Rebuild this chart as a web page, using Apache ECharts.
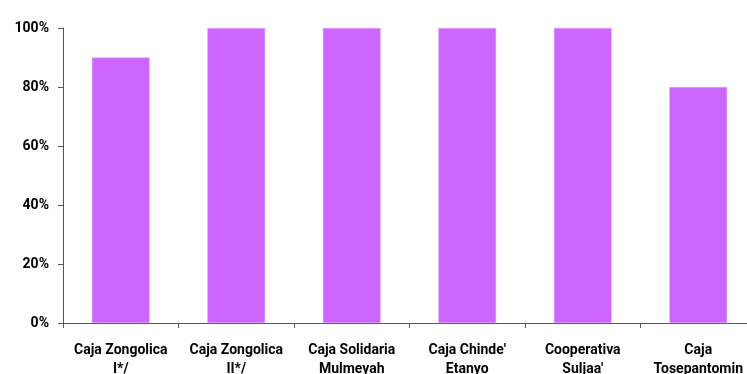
<!DOCTYPE html>
<html><head><meta charset="utf-8">
<script src="https://cdn.jsdelivr.net/npm/echarts@6/dist/echarts.min.js"></script>
<style>html,body{margin:0;padding:0;background:#fff;overflow:hidden;width:747px;height:374px}#c{width:770px;height:374px}</style>
</head><body><div id="c"></div>
<script>
const categories = ["Caja Zongolica\nI*/", "Caja Zongolica\nII*/", "Caja Solidaria\nMulmeyah", "Caja Chinde'\nEtanyo", "Cooperativa\nSuljaa'", "Caja\nTosepantomin"];
const values = [0.9, 1, 1, 1, 1, 0.8];
const yTicks = [0, 0.2, 0.4, 0.6, 0.8, 1];
const font = 'Roboto, "Liberation Sans", sans-serif';
const chart = echarts.init(document.getElementById('c'));
chart.setOption({
  animation: false,
  grid: {left: 63, right: 14, top: 28, bottom: 51, containLabel: false, outerBoundsMode: 'none'},
  xAxis: {
    type: 'category', data: categories,
    axisLine: {lineStyle: {color: '#555', width: 1}},
    axisTick: {show: true, length: 5, lineStyle: {color: '#555'}},
    axisLabel: {interval: 0, margin: 18, fontFamily: font, fontSize: 14, fontWeight: 'bold', color: '#000', lineHeight: 19}
  },
  yAxis: {
    type: 'value', min: yTicks[0], max: yTicks[yTicks.length - 1], interval: 0.2,
    splitLine: {show: false},
    axisLine: {show: true, lineStyle: {color: '#555', width: 1}},
    axisTick: {show: true, length: 5, lineStyle: {color: '#555'}},
    axisLabel: {margin: 14, fontFamily: font, fontSize: 14, fontWeight: 'bold', color: '#000',
      formatter: v => Math.round(v * 100) + '%'}
  },
  series: [{
    type: 'bar', data: values, barCategoryGap: '50%',
    itemStyle: {color: '#CC66FF', borderColor: '#E0A8FF', borderWidth: 0.5}
  }]
});
</script></body></html>
